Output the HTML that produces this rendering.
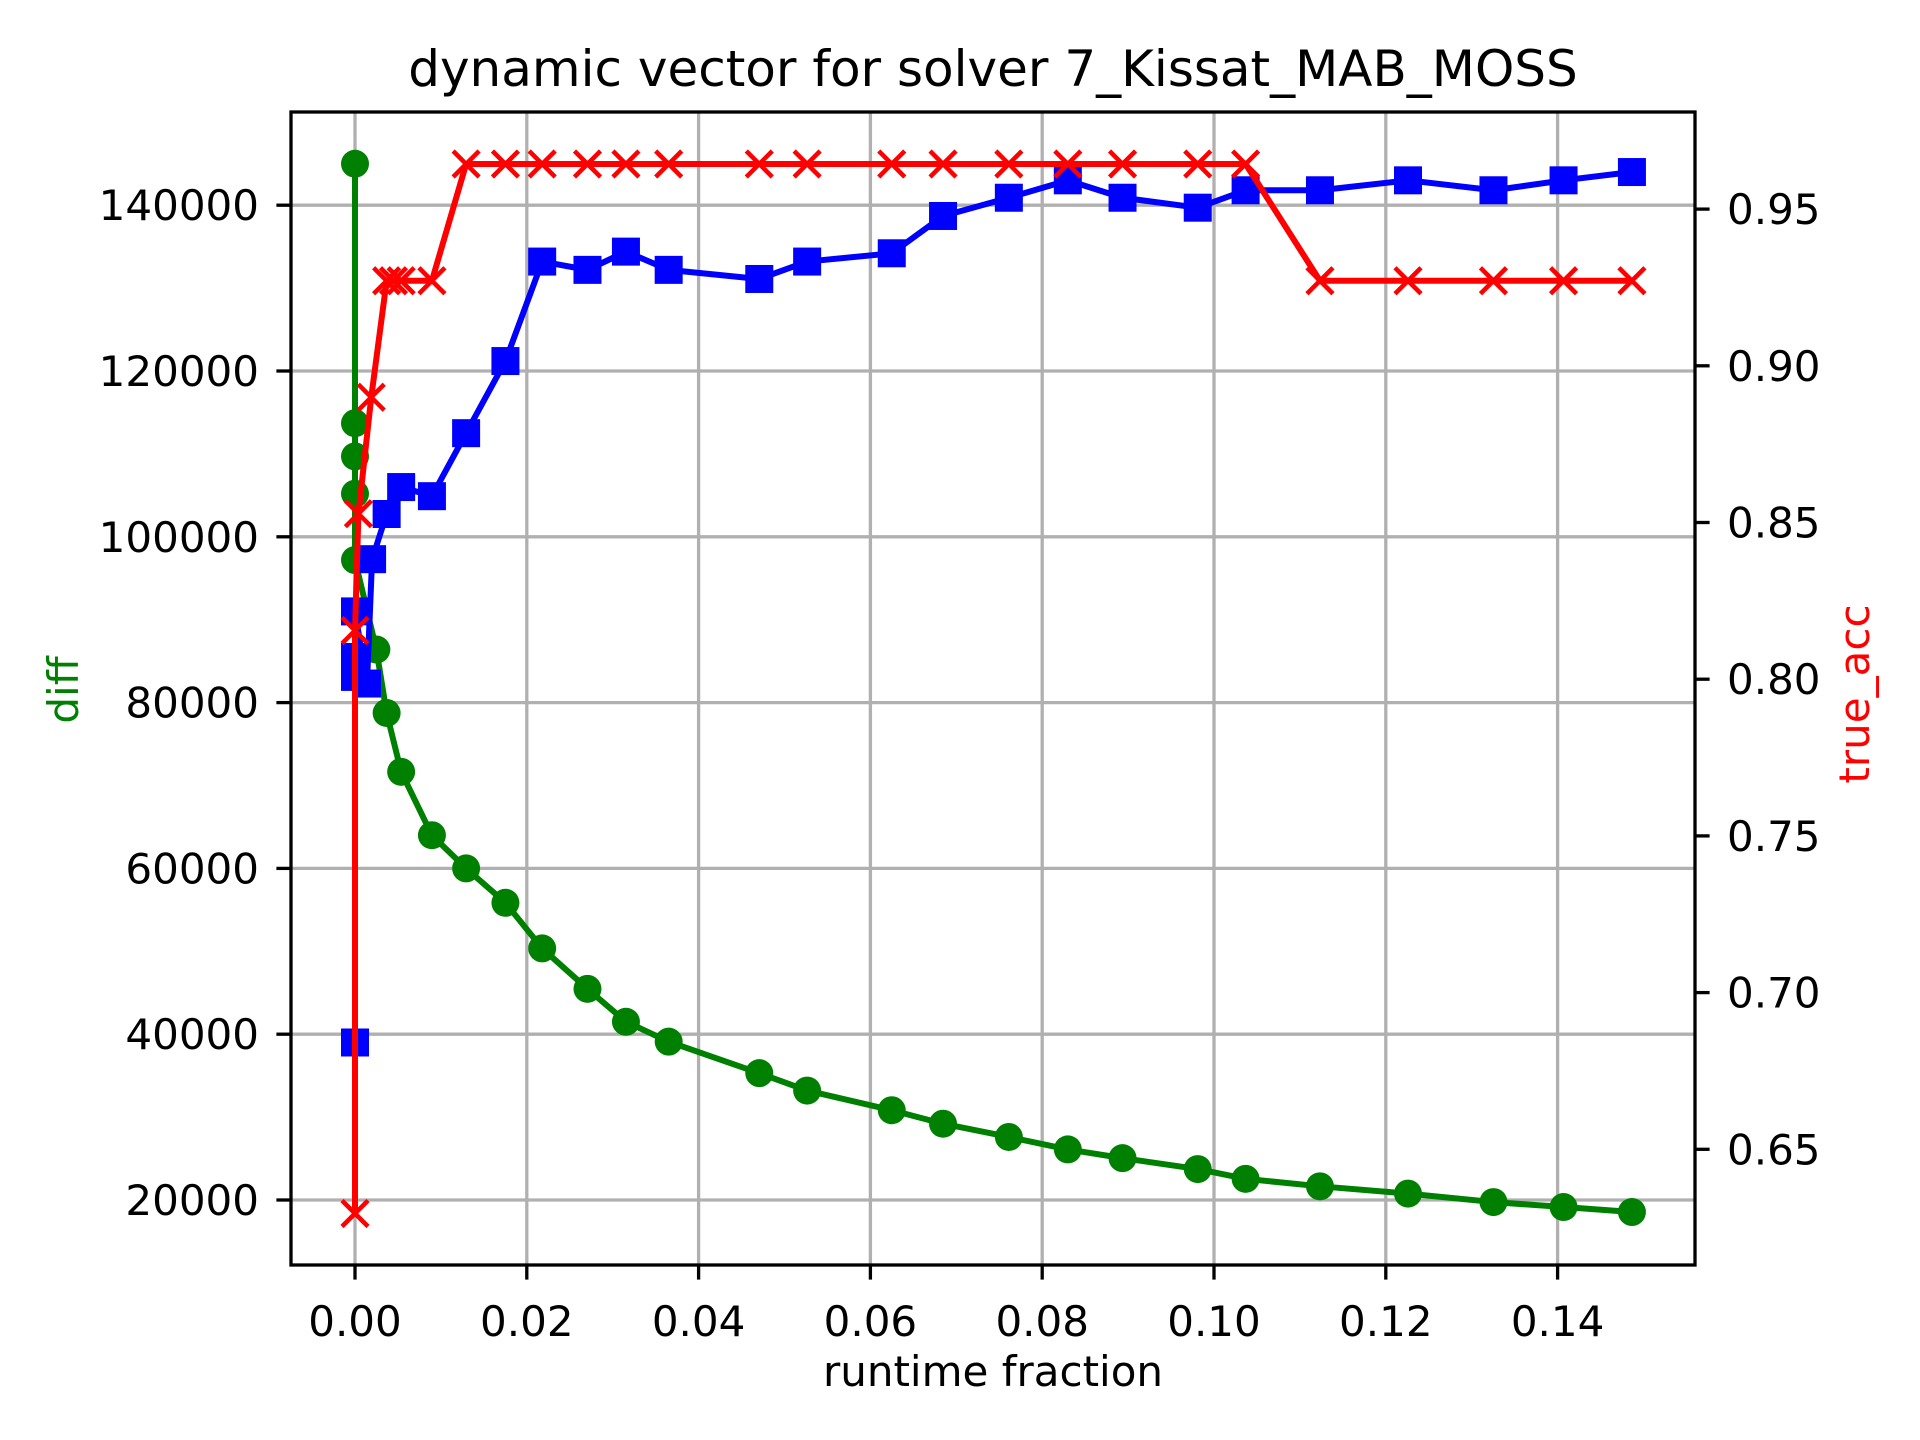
<!DOCTYPE html>
<html><head><meta charset="utf-8"><style>
html,body{margin:0;padding:0;background:#fff;}
svg{display:block;font-family:"DejaVu Sans","Liberation Sans",sans-serif;}
</style></head><body>
<svg id="chart" width="1920" height="1440" viewBox="0 0 1920 1440" xmlns="http://www.w3.org/2000/svg">
<rect x="0" y="0" width="1920" height="1440" fill="#fff"/>
<g id="grid"></g>
<g id="series"></g>
<g id="axes"></g>
<text x="993" y="86" font-size="50" text-anchor="middle">dynamic vector for solver 7_Kissat_MAB_MOSS</text>
<text x="993" y="1386" font-size="42" text-anchor="middle">runtime fraction</text>
<text x="0" y="0" font-size="42" fill="green" text-anchor="middle" transform="translate(78,690) rotate(-90)">diff</text>
<text x="0" y="0" font-size="42" fill="red" text-anchor="middle" transform="translate(1869,694) rotate(-90)">true_acc</text>
</svg>
<script>
const xTicks = [0.00,0.02,0.04,0.06,0.08,0.10,0.12,0.14];
const yLeftTicks = [20000,40000,60000,80000,100000,120000,140000];
const yRightTicks = [0.65,0.70,0.75,0.80,0.85,0.90,0.95];
const diffX = [0,0,0,0,0,0.0025,0.0037,0.0054,0.009,0.013,0.0176,0.0219,0.0272,0.0317,0.0367,0.0473,0.0529,0.0628,0.0688,0.0765,0.0834,0.0898,0.0986,0.1042,0.1129,0.1232,0.1332,0.1414,0.1494];
const diffVals = [145000,113700,109700,105200,97200,86400,78750,71650,64000,60000,55850,50350,45470,41500,39100,35300,33200,30830,29200,27600,26100,25050,23730,22550,21650,20770,19750,19150,18550];
const blueX = [0,0,0,0,0.0014,0.002,0.0037,0.0054,0.009,0.013,0.0176,0.0219,0.0272,0.0317,0.0367,0.0473,0.0529,0.0628,0.0688,0.0765,0.0834,0.0898,0.0986,0.1042,0.1129,0.1232,0.1332,0.1414,0.1494];
const blueVals = [39000,85500,83100,91000,82300,97300,102750,106000,104900,112500,121200,133200,132200,134400,132200,131100,133200,134200,138700,140900,143000,140900,139700,141800,141800,143000,141800,143000,144000];
const accX = [0,0,0.0004,0.0019,0.0037,0.0045,0.0054,0.009,0.013,0.0176,0.0219,0.0272,0.0317,0.0367,0.0473,0.0529,0.0628,0.0688,0.0765,0.0834,0.0898,0.0986,0.1042,0.1129,0.1232,0.1332,0.1414,0.1494];
const accVals = [0.6296,0.8148,0.8519,0.8889,0.9259,0.9259,0.9259,0.9259,0.9630,0.9630,0.9630,0.9630,0.9630,0.9630,0.9630,0.9630,0.9630,0.9630,0.9630,0.9630,0.9630,0.9630,0.9630,0.9259,0.9259,0.9259,0.9259,0.9259];

const L=291,R=1695,T=112,B=1265;
function X(v){return 355+v*8590;}
function XD(v){return 355+v*8590*0.995;}
function YL(d){return 1200-(d-20000)*165.8/20000;}
function YR(a){return 1149.3-(a-0.65)*157.4/0.05;}
function YRT(a){return 1149.3-(a-0.65)*156.7/0.05;}
const NS="http://www.w3.org/2000/svg";
function mk(tag,attrs,parent){const e=document.createElementNS(NS,tag);for(const k in attrs)e.setAttribute(k,attrs[k]);parent.appendChild(e);return e;}
const grid=document.getElementById('grid'),series=document.getElementById('series'),axes=document.getElementById('axes');

xTicks.forEach(t=>{const x=X(t);
 const g=mk('line',{x1:x,x2:x,y1:T,y2:B,stroke:'#b0b0b0','stroke-width':3.3},grid);
 
 
 const tk=mk('line',{x1:x,x2:x,y1:B,y2:B+14.6,stroke:'#000','stroke-width':3.3},axes);
 
 
 const lb=mk('text',{x:x,y:1336,'font-size':42,'text-anchor':'middle'},axes);lb.textContent=t.toFixed(2);
 
 
});
yLeftTicks.forEach(t=>{const y=YL(t);
 const g=mk('line',{x1:L,x2:R,y1:y,y2:y,stroke:'#b0b0b0','stroke-width':3.3},grid);
 
 
 const tk=mk('line',{x1:L-14.6,x2:L,y1:y,y2:y,stroke:'#000','stroke-width':3.3},axes);
 
 
 const lb=mk('text',{x:259,y:y+15,'font-size':42,'text-anchor':'end'},axes);lb.textContent=String(t);
 
 
});
yRightTicks.forEach(t=>{const y=YRT(t);
 const tk=mk('line',{x1:R,x2:R+14.6,y1:y,y2:y,stroke:'#000','stroke-width':3.3},axes);
 
 
 const lb=mk('text',{x:1727,y:y+15,'font-size':42,'text-anchor':'start'},axes);lb.textContent=t.toFixed(2);
 
 
});
const frame=mk('rect',{x:L,y:T,width:R-L,height:B-T,fill:'none',stroke:'#000','stroke-width':3.3},axes);



function poly(xs,ys,fy,color,name){
 const pts=xs.map((v,i)=>XD(v)+','+fy(ys[i])).join(' ');
 const p=mk('polyline',{points:pts,fill:'none',stroke:color,'stroke-width':6,'stroke-linejoin':'round'},series);
 
 
}
poly(diffX,diffVals,YL,'green','diff-line');
diffX.forEach((v,i)=>{const c=mk('circle',{cx:XD(v),cy:YL(diffVals[i]),r:14,fill:'green'},series);
 
 });
poly(blueX,blueVals,YL,'blue','blue-line');
blueX.forEach((v,i)=>{const s=mk('rect',{x:XD(v)-14,y:YL(blueVals[i])-14,width:28,height:28,fill:'blue'},series);
 
 });
poly(accX,accVals,YR,'red','true-acc-line');
accX.forEach((v,i)=>{const x=XD(v),y=YR(accVals[i]),h=13;
 const p=mk('path',{d:`M${x-h},${y-h}L${x+h},${y+h}M${x-h},${y+h}L${x+h},${y-h}`,stroke:'red','stroke-width':4.5,fill:'none'},series);
 
 });
</script>
</body></html>
